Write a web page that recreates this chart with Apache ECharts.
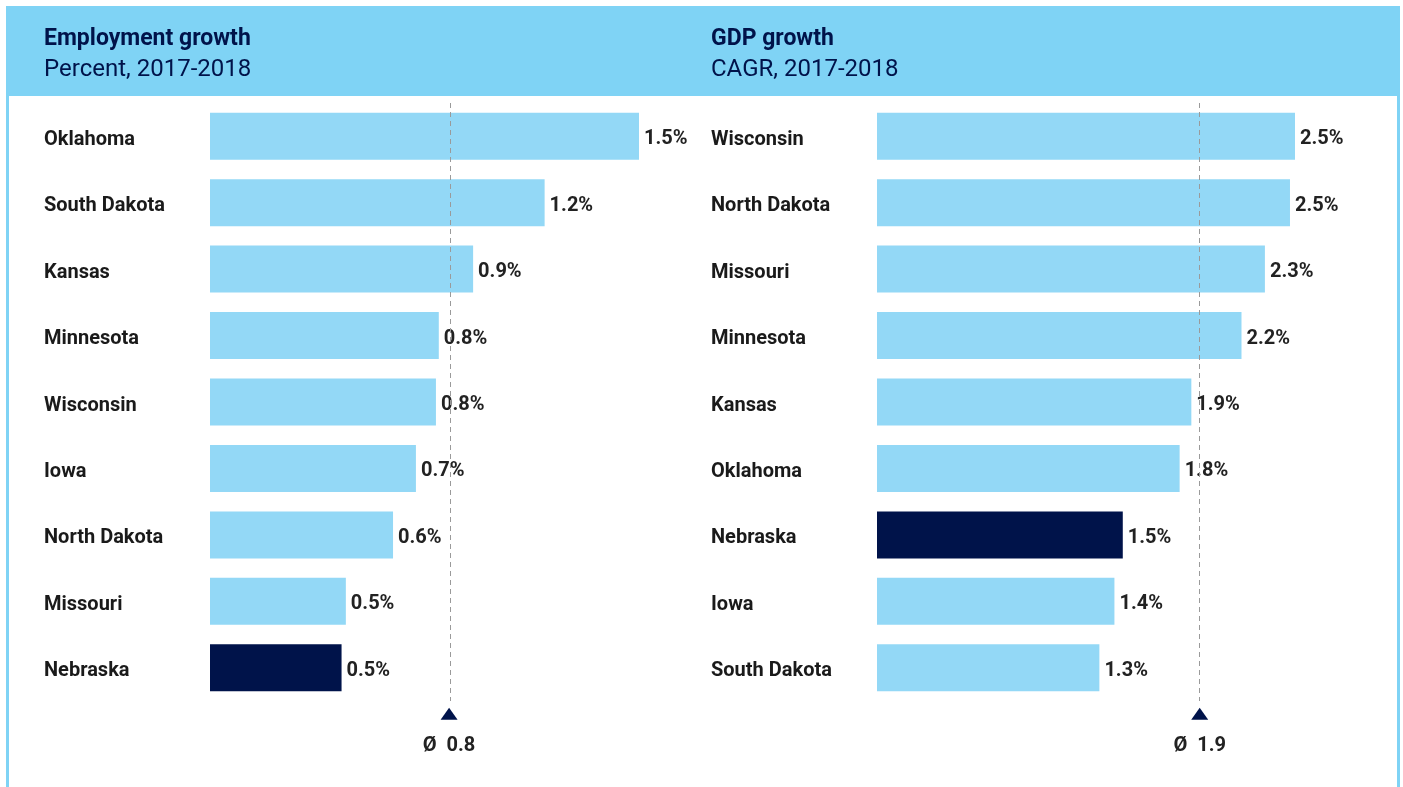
<!DOCTYPE html>
<html><head><meta charset="utf-8">
<script src="https://cdn.jsdelivr.net/npm/echarts@6/dist/echarts.min.js"></script>
<style>html,body{margin:0;padding:0;background:#fff}#c{width:1403px;height:787px}</style>
</head><body><div id="c"></div>
<script>
const empStates = ['Oklahoma','South Dakota','Kansas','Minnesota','Wisconsin','Iowa','North Dakota','Missouri','Nebraska'];
const empValues = [1.5, 1.17, 0.92, 0.80, 0.79, 0.72, 0.64, 0.475, 0.46];
const empAvg = 0.836;
const gdpStates = ['Wisconsin','North Dakota','Missouri','Minnesota','Kansas','Oklahoma','Nebraska','Iowa','South Dakota'];
const gdpValues = [2.5, 2.47, 2.32, 2.18, 1.88, 1.81, 1.47, 1.42, 1.33];
const gdpAvg = 1.93;
const highlight = 'Nebraska';
const titles = [['Employment growth','Percent, 2017-2018'],['GDP growth','CAGR, 2017-2018']];

const FONT = 'Roboto';
const NAVY = '#00134a';
const LIGHT = '#93d8f6';
const HEAD = '#7fd3f5';

function mkSeries(idx, states, values, avg){
  return {
    type:'bar', xAxisIndex:idx, yAxisIndex:idx, barWidth:47,
    data: values.map((v,i)=>({value:v, itemStyle:{color: states[i]===highlight?NAVY:LIGHT}})),
    label:{show:true, position:'right', distance:5, offset:[0,3], formatter:p=>p.value.toFixed(1)+'%',
      fontFamily:FONT, fontWeight:'bold', fontSize:20, color:'#222'},
    markLine:{silent:true, symbol:'none', label:{show:false},
      lineStyle:{color:'#9a9a9a', type:[5,4], width:1},
      data:[{xAxis:avg}]},
    markPoint:{silent:true, symbol:'triangle', symbolSize:[17,12], symbolOffset:[0,46],
      itemStyle:{color:NAVY},
      label:{show:true, position:'bottom', distance:16, formatter:'Ø  '+avg.toFixed(1),
        fontFamily:FONT, fontWeight:'bold', fontSize:20, color:'#222'},
      data:[{coord:[avg, states[states.length-1]]}]}
  };
}

const yLabel = {align:'left', margin:166, formatter: v => '{a|' + v + '}',
  rich:{a:{fontFamily:FONT, fontWeight:'bold', fontSize:20, color:'#1a1a1a', padding:[7,0,0,0]}}};

const chart = echarts.init(document.getElementById('c'));
chart.setOption({
  animation:false,
  graphic:[
    {type:'rect', shape:{x:6,y:6,width:1394,height:90}, style:{fill:HEAD}, z:-1},
    {type:'rect', shape:{x:6,y:96,width:3,height:691}, style:{fill:HEAD}, z:-1},
    {type:'rect', shape:{x:1397,y:96,width:3,height:691}, style:{fill:HEAD}, z:-1}
  ],
  title: titles.map((t,i)=>({
    text:t[0], subtext:t[1], left: i===0?39:706, top:23, itemGap:7,
    textStyle:{fontFamily:FONT, fontWeight:'bold', fontSize:23, color:NAVY},
    subtextStyle:{fontFamily:FONT, fontWeight:'normal', fontSize:24, color:NAVY}
  })),
  grid:[
    {left:210, top:103, width:429, height:598},
    {left:877, top:103, width:418, height:598}
  ],
  xAxis:[
    {gridIndex:0, type:'value', min:0, max:1.5, show:false},
    {gridIndex:1, type:'value', min:0, max:2.5, show:false}
  ],
  yAxis:[
    {gridIndex:0, type:'category', inverse:true, data:empStates, axisLine:{show:false}, axisTick:{show:false}, axisLabel:yLabel},
    {gridIndex:1, type:'category', inverse:true, data:gdpStates, axisLine:{show:false}, axisTick:{show:false}, axisLabel:yLabel}
  ],
  series:[mkSeries(0, empStates, empValues, empAvg), mkSeries(1, gdpStates, gdpValues, gdpAvg)]
});
</script></body></html>
